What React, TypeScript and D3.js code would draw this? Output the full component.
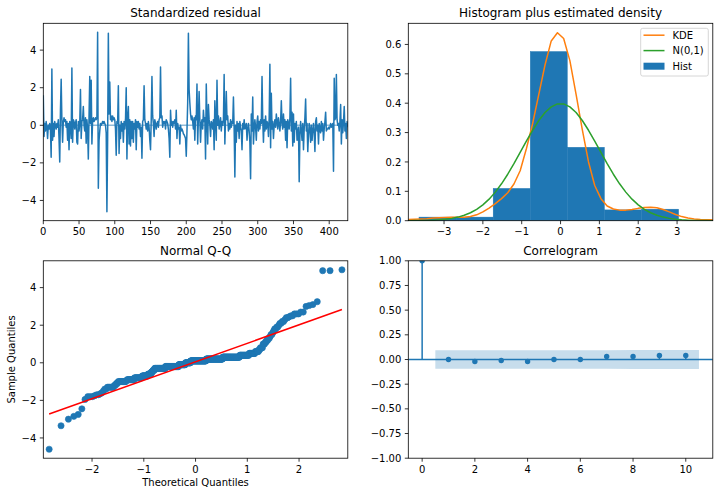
import React from 'react';
import * as d3 from 'd3';

const C0 = '#1f77b4';
const C1 = '#ff7f0e';
const C2 = '#2ca02c';
const FONT = "'DejaVu Sans', sans-serif";

// ---------- Standardized residual series ----------
const residuals = [
  1.6, -0.6, 0.1, -0.3, 0.2, -0.1, -0.7, 0.0, -0.2, 0.1,
  -0.2, -1.7, 3.0, -0.8, 0.1, -0.6, 0.2, 0.0, -0.2, 0.1,
  -0.1, 0.3, -0.7, -1.95, 0.8, 2.45, 0.3, -0.9, 0.2, 0.4,
  0.2, 0.3, -0.1, 0.2, -0.8, 0.1, -1.3, 0.2, 0.1, -0.7,
  3.05, -0.9, 0.3, 0.2, -0.2, 0.1, 0.3, -0.9, -1.0, 0.2,
  -0.3, 0.1, 1.9, -0.7, 0.2, 0.3, 1.0, 0.0, -0.3, 0.4,
  -0.95, 0.3, -0.2, -1.8, 0.5, 2.6, 0.1, 2.4, -1.0, 0.3,
  0.4, 0.2, 0.3, 0.4, 0.3, 0.4, 4.95, -3.35, -0.8, -0.3,
  0.1, 0.0, 0.1, 0.2, 0.1, 0.2, 0.1, 0.0, -0.4, -4.6,
  -0.8, 4.9, 0.6, 2.3, 0.3, 0.5, 0.2, 0.5, 0.3, 0.4,
  0.3, -0.2, -1.6, 0.2, 0.1, 2.1, -1.5, 0.0, -0.7, 0.2,
  -0.3, 0.1, -0.9, 0.2, -0.2, 0.3, 2.0, -1.8, 0.4, 1.0,
  -1.0, 0.3, -1.1, 0.2, -0.7, 0.2, -0.9, 0.1, -0.2, 0.3,
  -1.3, 0.2, -0.1, 0.2, -0.2, 0.1, -0.6, -0.1, -1.75, 0.2,
  0.3, 2.1, 0.3, 0.1, -0.2, 0.1, -0.3, 0.2, -0.1, -0.8,
  -1.3, 0.3, 2.6, 0.5, 0.1, -0.6, 0.3, 0.1, -0.2, 0.1,
  0.2, -0.1, 0.3, 0.4, 3.1, 0.4, 0.5, -0.1, 0.2, 0.1,
  0.2, -0.2, 0.3, 0.2, 0.1, -0.2, -0.7, -1.7, 0.8, 0.0,
  0.2, -0.1, 0.2, 0.1, 0.3, -0.2, 0.8, -0.7, 0.1, -0.2,
  -0.1, -1.0, 0.0, -0.3, -0.2, -0.3, -0.45, -0.5, -0.6, -0.7,
  -1.65, -0.3, 1.2, 4.9, 1.9, 1.2, 0.6, 0.3, 0.5, 0.2,
  -0.2, 0.4, -0.8, 0.5, 0.3, 2.2, -1.0, 0.4, 1.8, 0.3,
  -0.9, 0.1, 0.3, -0.2, 0.8, 0.2, 0.4, -1.8, 2.2, 0.3,
  -1.0, 1.1, 0.3, 0.0, -0.6, 0.2, 0.1, -0.2, 0.3, -1.3,
  1.3, 0.2, -0.8, 2.4, 0.0, 0.5, -0.2, 0.1, 0.4, -0.3,
  0.2, 0.0, 0.3, 2.7, -1.0, 0.4, 1.8, 0.3, 0.5, -0.3,
  0.1, -0.2, 0.3, -0.1, 0.2, 0.1, 1.5, -0.2, -2.75, 0.0,
  -0.9, 0.2, -0.3, 0.1, -0.7, 0.2, -0.1, -0.3, -1.3, 0.1,
  -0.2, 0.3, -0.2, -0.1, 0.1, -0.8, -0.2, 0.1, -0.3, -0.9,
  -2.85, 0.6, -0.3, 1.5, -1.0, -0.2, 0.3, -0.1, -0.8, 0.2,
  0.5, -0.3, 0.2, -0.2, 0.3, 0.1, 2.6, 0.3, -0.9, 0.3,
  -0.3, 0.5, -0.2, 0.2, 0.1, -0.6, 0.4, 3.25, -1.2, 1.7,
  -0.2, 0.2, -0.7, 0.0, 0.3, -0.1, 0.6, 0.2, -0.2, 0.4,
  0.1, -0.3, 0.2, 1.3, 0.1, -0.2, 0.6, -0.1, 0.3, -0.8,
  0.2, -1.2, 0.3, 0.1, -0.2, 0.4, 2.5, -0.3, 0.7, -1.1,
  0.6, -0.9, 0.1, -0.2, 0.2, -0.8, -0.3, -0.1, -3.0, -0.5,
  0.2, -0.3, -0.8, 0.1, -1.3, -0.2, 0.4, 1.4, -0.3, 0.1,
  -1.4, -0.5, 0.1, -0.2, -0.9, 0.0, -0.8, -0.3, 0.1, -0.4,
  -1.4, 0.2, 0.4, -0.3, 0.0, -1.0, 0.1, -0.2, -0.4, 0.2,
  -0.3, 0.1, -0.8, -0.2, 0.2, 0.7, -0.3, -0.2, -0.2, -0.1,
  -0.2, -0.1, 0.1, -0.1, 0.0, 0.1, -2.45, 2.5, 0.3, 0.4,
  2.7, 0.3, 0.0, 0.1, -0.3, 0.2, 1.1, -1.0, 0.3, -0.4,
  0.2, 1.0, -0.3, 0.1, -0.7, 0.2, -0.1,
];
const resXTicks = [0, 50, 100, 150, 200, 250, 300, 350, 400];
const resYTicks = [-4, -2, 0, 2, 4];

// ---------- Histogram + densities ----------
const histEdges = [-4.6, -3.645, -2.69, -1.735, -0.78, 0.175, 1.13, 2.085, 3.04, 3.995, 4.95];
const histDensity = [0.0025, 0.0123, 0.0123, 0.110, 0.576, 0.250, 0.0368, 0.0393, 0.0, 0.0074];
const densityGrid = [
  -3.92, -3.76, -3.60, -3.44, -3.28, -3.12, -2.96, -2.80, -2.64, -2.48,
  -2.32, -2.16, -2.00, -1.84, -1.68, -1.52, -1.36, -1.20, -1.04, -0.88,
  -0.72, -0.56, -0.40, -0.24, -0.08, 0.08, 0.24, 0.40, 0.56, 0.72,
  0.88, 1.04, 1.20, 1.36, 1.52, 1.68, 1.84, 2.00, 2.16, 2.32,
  2.48, 2.64, 2.80, 2.96, 3.12, 3.28, 3.44, 3.60, 3.76, 3.92,
];
const kdeDensity = [
  0.004, 0.005, 0.006, 0.007, 0.009, 0.010, 0.011, 0.012, 0.012, 0.012,
  0.014, 0.020, 0.030, 0.043, 0.058, 0.075, 0.095, 0.125, 0.170, 0.245,
  0.330, 0.430, 0.530, 0.612, 0.640, 0.620, 0.545, 0.430, 0.310, 0.200,
  0.120, 0.075, 0.050, 0.040, 0.036, 0.036, 0.038, 0.042, 0.045, 0.046,
  0.044, 0.038, 0.030, 0.021, 0.014, 0.009, 0.006, 0.004, 0.003, 0.003,
];
const normalDensity = [
  0.00018, 0.00034, 0.00061, 0.00107, 0.00184, 0.00307, 0.00499, 0.00792, 0.01223, 0.01842,
  0.02705, 0.03871, 0.05399, 0.07340, 0.09728, 0.12566, 0.15822, 0.19419, 0.23230, 0.27086,
  0.30785, 0.34105, 0.36827, 0.38762, 0.39767, 0.39767, 0.38762, 0.36827, 0.34105, 0.30785,
  0.27086, 0.23230, 0.19419, 0.15822, 0.12566, 0.09728, 0.07340, 0.05399, 0.03871, 0.02705,
  0.01842, 0.01223, 0.00792, 0.00499, 0.00307, 0.00184, 0.00107, 0.00061, 0.00034, 0.00018,
];
const histXTicks = [-3, -2, -1, 0, 1, 2, 3];
const histYTicks = [0, 0.1, 0.2, 0.3, 0.4, 0.5, 0.6];
const legendLabels = ['KDE', 'N(0,1)', 'Hist'];

// ---------- QQ ----------
const qqXTicks = [-2, -1, 0, 1, 2];
const qqYTicks = [-4, -2, 0, 2, 4];

// ---------- Correlogram ----------
const acfLags = [0, 1, 2, 3, 4, 5, 6, 7, 8, 9, 10];
const acfValues = [1.0, 0.0, -0.02, -0.01, -0.02, 0.0, 0.0, 0.03, 0.03, 0.04, 0.04];
const acfConfHalf = [0.094, 0.094, 0.094, 0.094, 0.094, 0.094, 0.094, 0.095, 0.095, 0.095];
const acfXTicks = [0, 2, 4, 6, 8, 10];
const acfYTicks = [-1, -0.75, -0.5, -0.25, 0, 0.25, 0.5, 0.75, 1];

// ---------- helpers ----------
function normInv(p: number): number {
  const a = [-3.969683028665376e1, 2.209460984245205e2, -2.759285104469687e2, 1.38357751867269e2, -3.066479806614716e1, 2.506628277459239];
  const b = [-5.447609879822406e1, 1.615858368580409e2, -1.556989798598866e2, 6.680131188771972e1, -1.328068155288572e1];
  const c = [-7.784894002430293e-3, -3.223964580411365e-1, -2.400758277161838, -2.549732539343734, 4.374664141464968, 2.938163982698783];
  const d = [7.784695709041462e-3, 3.224671290700398e-1, 2.445134137142996, 3.754408661907416];
  const plow = 0.02425;
  if (p < plow) {
    const q = Math.sqrt(-2 * Math.log(p));
    return (((((c[0] * q + c[1]) * q + c[2]) * q + c[3]) * q + c[4]) * q + c[5]) / ((((d[0] * q + d[1]) * q + d[2]) * q + d[3]) * q + 1);
  }
  if (p <= 1 - plow) {
    const q = p - 0.5, r = q * q;
    return ((((((a[0] * r + a[1]) * r + a[2]) * r + a[3]) * r + a[4]) * r + a[5]) * q) / (((((b[0] * r + b[1]) * r + b[2]) * r + b[3]) * r + b[4]) * r + 1);
  }
  const q = Math.sqrt(-2 * Math.log(1 - p));
  return -(((((c[0] * q + c[1]) * q + c[2]) * q + c[3]) * q + c[4]) * q + c[5]) / ((((d[0] * q + d[1]) * q + d[2]) * q + d[3]) * q + 1);
}

const fmtNum = (s: string) => s.replace('-', '\u2212');

type AxProps = {
  id: string;
  x: number; y: number; w: number; h: number;
  xs: d3.ScaleLinear<number, number>;
  ys: d3.ScaleLinear<number, number>;
  xTicks: number[]; yTicks: number[];
  xFmt: (v: number) => string; yFmt: (v: number) => string;
  title: string;
  children?: React.ReactNode;
  overlay?: React.ReactNode;
};

function Axes({ id, x, y, w, h, xs, ys, xTicks, yTicks, xFmt, yFmt, title, children, overlay }: AxProps) {
  return (
    <g>
      <defs>
        <clipPath id={id}>
          <rect x={x} y={y} width={w} height={h} />
        </clipPath>
      </defs>
      <g clipPath={`url(#${id})`}>{children}</g>
      <rect x={x} y={y} width={w} height={h} fill="none" stroke="#000" strokeWidth={0.8} />
      {xTicks.map((t) => (
        <g key={'x' + t}>
          <line x1={xs(t)} x2={xs(t)} y1={y + h} y2={y + h + 3.5} stroke="#000" strokeWidth={0.8} />
          <text x={xs(t)} y={y + h + 14.5} textAnchor="middle" fontSize={10} fontFamily={FONT} fill="#000">
            {fmtNum(xFmt(t))}
          </text>
        </g>
      ))}
      {yTicks.map((t) => (
        <g key={'y' + t}>
          <line x1={x - 3.5} x2={x} y1={ys(t)} y2={ys(t)} stroke="#000" strokeWidth={0.8} />
          <text x={x - 7} y={ys(t) + 3.6} textAnchor="end" fontSize={10} fontFamily={FONT} fill="#000">
            {fmtNum(yFmt(t))}
          </text>
        </g>
      ))}
      <text x={x + w / 2} y={y - 6} textAnchor="middle" fontSize={12} fontFamily={FONT} fill="#000">
        {title}
      </text>
      {overlay}
    </g>
  );
}

export default function App() {
  // layout
  const L1 = 43.3, L2 = 408.3, W = 304.5;
  const T1 = 23.3, T2 = 260.8, H = 197.4;

  // ---- residual panel ----
  const n = residuals.length;
  const yExt = d3.extent(residuals) as [number, number];
  const yPad = (yExt[1] - yExt[0]) * 0.05;
  const resX = d3.scaleLinear().domain([0, n - 1]).range([L1, L1 + W]);
  const resY = d3.scaleLinear().domain([yExt[0] - yPad, yExt[1] + yPad]).range([T1 + H, T1]);
  const resLine = d3.line<number>().x((_, i) => resX(i)).y((v) => resY(v));

  // ---- histogram panel ----
  const hX = d3.scaleLinear().domain([-3.92, 3.92]).range([L2, L2 + W]);
  const hMax = Math.max(d3.max(kdeDensity)!, d3.max(histDensity)!) * 1.05;
  const hY = d3.scaleLinear().domain([0, hMax]).range([T1 + H, T1]);
  const kdeLine = d3.line<number>().x((_, i) => hX(densityGrid[i])).y((v) => hY(v));

  // ---- QQ panel ----
  const sorted = [...residuals].sort((a, b) => a - b);
  const theo = sorted.map((_, i) => normInv((i + 1) / (n + 1)));
  const tMin = theo[0], tMax = theo[n - 1];
  const tPad = (tMax - tMin) * 0.02;
  const qX = d3.scaleLinear().domain([tMin - tPad, tMax + tPad]).range([L1, L1 + W]);
  const qY = d3.scaleLinear().domain([yExt[0] - yPad, yExt[1] + yPad]).range([T2 + H, T2]);
  const mean = d3.mean(residuals)!;
  const sd = Math.sqrt(d3.mean(residuals.map((v) => (v - mean) ** 2))!);

  // ---- ACF panel ----
  const aX = d3.scaleLinear().domain([-0.525, 11.025]).range([L2, L2 + W]);
  const aY = d3.scaleLinear().domain([-1, 1]).range([T2 + H, T2]);
  const bandX = acfConfHalf.map((_, i) => (i === 0 ? 0.5 : i === acfConfHalf.length - 1 ? acfLags[i + 1] + 0.5 : acfLags[i + 1]));
  const bandArea = d3
    .area<number>()
    .x((_, i) => aX(bandX[i]))
    .y0((v) => aY(-v))
    .y1((v) => aY(v));

  const legX = 640.7, legY = 28.3, legW = 67.6, legH = 47.7;
  const rowY = [35.2, 50.6, 66.2];

  return (
    <svg width={719} height={496} style={{ position: 'absolute', left: 0, top: 0, background: '#fff' }}>
      <rect x={0} y={0} width={719} height={496} fill="#fff" />

      {/* Standardized residual */}
      <Axes id="c1" x={L1} y={T1} w={W} h={H} xs={resX} ys={resY} xTicks={resXTicks} yTicks={resYTicks}
        xFmt={(v) => String(v)} yFmt={(v) => String(v)} title="Standardized residual">
        <path d={resLine(residuals)!} fill="none" stroke={C0} strokeWidth={1.5} strokeLinejoin="round" />
        <line x1={resX(0)} x2={resX(n - 1)} y1={resY(0)} y2={resY(0)} stroke={C0} strokeOpacity={0.5} strokeWidth={1.5} />
      </Axes>

      {/* Histogram */}
      <Axes id="c2" x={L2} y={T1} w={W} h={H} xs={hX} ys={hY} xTicks={histXTicks} yTicks={histYTicks}
        xFmt={(v) => String(v)} yFmt={(v) => v.toFixed(1)} title="Histogram plus estimated density"
        overlay={
          <g>
            <rect x={legX} y={legY} width={legW} height={legH} rx={2} fill="#fff" fillOpacity={0.8} stroke="#ccc" strokeWidth={0.8} />
            <line x1={643.5} x2={664.5} y1={rowY[0]} y2={rowY[0]} stroke={C1} strokeWidth={1.5} />
            <line x1={643.5} x2={664.5} y1={rowY[1]} y2={rowY[1]} stroke={C2} strokeWidth={1.5} />
            <rect x={643.5} y={rowY[2] - 3.5} width={21} height={7} fill={C0} />
            {legendLabels.map((lab, i) => (
              <text key={lab} x={672.5} y={rowY[i] + 3.6} fontSize={10} fontFamily={FONT} fill="#000">{lab}</text>
            ))}
          </g>
        }>
        {histDensity.map((v, i) => (
          <rect key={i} x={hX(histEdges[i])} width={hX(histEdges[i + 1]) - hX(histEdges[i])}
            y={hY(v)} height={hY(0) - hY(v)} fill={C0} stroke={C0} strokeWidth={v > 0 ? 0.4 : 0} />
        ))}
        <path d={kdeLine(kdeDensity)!} fill="none" stroke={C1} strokeWidth={1.5} strokeLinejoin="round" />
        <path d={kdeLine(normalDensity)!} fill="none" stroke={C2} strokeWidth={1.5} strokeLinejoin="round" />
      </Axes>

      {/* Normal Q-Q */}
      <Axes id="c3" x={L1} y={T2} w={W} h={H} xs={qX} ys={qY} xTicks={qqXTicks} yTicks={qqYTicks}
        xFmt={(v) => String(v)} yFmt={(v) => String(v)} title="Normal Q-Q"
        overlay={
          <g>
            <text x={L1 + W / 2} y={485.5} textAnchor="middle" fontSize={10} fontFamily={FONT} fill="#000">Theoretical Quantiles</text>
            <text transform={`translate(14.5, ${T2 + H / 2}) rotate(-90)`} textAnchor="middle" fontSize={10} fontFamily={FONT} fill="#000">Sample Quantiles</text>
          </g>
        }>
        {sorted.map((v, i) => (
          <circle key={i} cx={qX(theo[i])} cy={qY(v)} r={3.1} fill={C0} stroke={C0} strokeWidth={0.6} />
        ))}
        <line x1={qX(tMin)} x2={qX(tMax)} y1={qY(tMin * sd + mean)} y2={qY(tMax * sd + mean)} stroke="#ff0000" strokeWidth={1.5} />
      </Axes>

      {/* Correlogram */}
      <Axes id="c4" x={L2} y={T2} w={W} h={H} xs={aX} ys={aY} xTicks={acfXTicks} yTicks={acfYTicks}
        xFmt={(v) => String(v)} yFmt={(v) => v.toFixed(2)} title="Correlogram">
        <path d={bandArea(acfConfHalf)!} fill={C0} fillOpacity={0.25} />
        <line x1={L2} x2={L2 + W} y1={aY(0)} y2={aY(0)} stroke={C0} strokeWidth={1.5} />
        {acfLags.map((l, i) => (
          <line key={'s' + l} x1={aX(l)} x2={aX(l)} y1={aY(0)} y2={aY(acfValues[i])} stroke={C0} strokeWidth={1.5} />
        ))}
        {acfLags.map((l, i) => (
          <circle key={'m' + l} cx={aX(l)} cy={aY(acfValues[i])} r={2.7} fill={C0} />
        ))}
      </Axes>
    </svg>
  );
}
